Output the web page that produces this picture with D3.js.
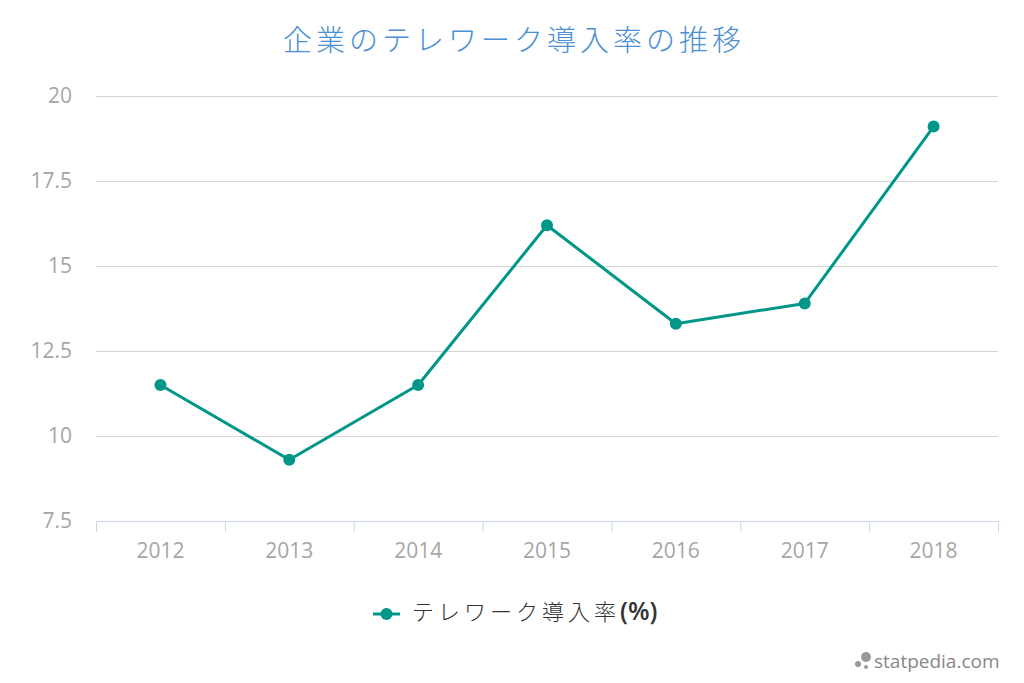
<!DOCTYPE html>
<html><head><meta charset="utf-8">
<script src="https://cdn.jsdelivr.net/npm/d3@7"></script>
<style>body{margin:0;background:#fff}svg{display:block}</style>
</head><body>
<svg id="c" width="1024" height="683"></svg>
<script>
const categories = ["2012","2013","2014","2015","2016","2017","2018"];
const values = [11.5, 9.3, 11.5, 16.2, 13.3, 13.9, 19.1];
const yTicks = [7.5, 10, 12.5, 15, 17.5, 20];
const yTickLabels = ["7.5","10","12.5","15","17.5","20"];
const titleText = "企業のテレワーク導入率の推移";
const seriesNameMain = "テレワーク導入率";
const seriesNameUnit = "(%)";

const svg = d3.select("#c");
const W = 1024, H = 683;
const m = {left: 96, right: 26, top: 96, bottom: 162};
const x = d3.scaleBand().domain(categories).range([m.left, W - m.right]);
const y = d3.scaleLinear().domain([7.5, 20]).range([H - m.bottom, m.top]);
const color = "#009688";

// grid
svg.append("g").selectAll("line").data(yTicks.slice(1)).join("line")
  .attr("x1", m.left).attr("x2", W - m.right)
  .attr("y1", d => y(d) + 0.5).attr("y2", d => y(d) + 0.5)
  .attr("stroke", "#d6d6d6").attr("stroke-width", 1);

// y labels
svg.append("g").selectAll("text").data(yTicks).join("text")
  .attr("x", 72).attr("y", d => y(d)).attr("dy", "0.35em")
  .attr("text-anchor", "end").attr("fill", "#a6a6a6")
  .style("font", "21px 'Open Sans'").text((d,i) => yTickLabels[i]);

// x axis
const xa = svg.append("g").attr("transform", `translate(0,${y(7.5)})`);
xa.append("line").attr("x1", m.left).attr("x2", W - m.right).attr("y1", 0.5).attr("y2", 0.5).attr("stroke", "#ccd6eb");
const bounds = categories.map(c => x(c)).concat([x(categories[categories.length-1]) + x.bandwidth()]);
xa.selectAll("line.t").data(bounds).join("line").attr("class","t")
  .attr("x1", d => d + 0.5).attr("x2", d => d + 0.5).attr("y1", 0).attr("y2", 11)
  .attr("stroke", "#ccd6eb");
xa.selectAll("text").data(categories).join("text")
  .attr("x", d => x(d) + x.bandwidth()/2).attr("y", 37)
  .attr("text-anchor", "middle").attr("fill", "#a6a6a6")
  .style("font", "21px 'Open Sans'").text(d => d);

// line
const line = d3.line().x((d,i) => x(categories[i]) + x.bandwidth()/2).y(d => y(d));
svg.append("path").datum(values).attr("d", line)
  .attr("fill", "none").attr("stroke", color).attr("stroke-width", 3)
  .attr("stroke-linejoin", "round").attr("stroke-linecap", "round");
svg.append("g").selectAll("circle").data(values).join("circle")
  .attr("cx", (d,i) => x(categories[i]) + x.bandwidth()/2).attr("cy", d => y(d))
  .attr("r", 6).attr("fill", color);

// title
svg.append("text").attr("x", 514).attr("y", 51).attr("text-anchor", "middle")
  .attr("fill", "#4a90d2").style("font", "300 29px 'Noto Sans CJK JP'")
  .style("letter-spacing", "4px").text(titleText);

// legend
const lg = svg.append("g").attr("transform", "translate(373,614)");
lg.append("line").attr("x1", 0).attr("x2", 27).attr("stroke", color).attr("stroke-width", 3);
lg.append("circle").attr("cx", 13.5).attr("r", 6).attr("fill", color);
const lt = lg.append("text").attr("x", 39).attr("dy", "0.35em").attr("fill", "#333");
lt.append("tspan").style("font", "300 22px 'Noto Sans CJK JP'").style("letter-spacing", "4px").text(seriesNameMain);
lt.append("tspan").style("font", "600 25px 'Open Sans'").text(seriesNameUnit);

// watermark
const wm = svg.append("g").attr("transform", "translate(854,661)");
wm.append("circle").attr("cx", 4).attr("cy", 3).attr("r", 3).attr("fill", "#999");
wm.append("circle").attr("cx", 12).attr("cy", -4).attr("r", 5).attr("fill", "#999");
wm.append("circle").attr("cx", 12).attr("cy", 6).attr("r", 2).attr("fill", "#999");
wm.append("text").attr("x", 20).attr("dy", "0.35em").attr("fill", "#888")
  .style("font", "19px 'Open Sans'").text("statpedia.com");
</script>
</body></html>
